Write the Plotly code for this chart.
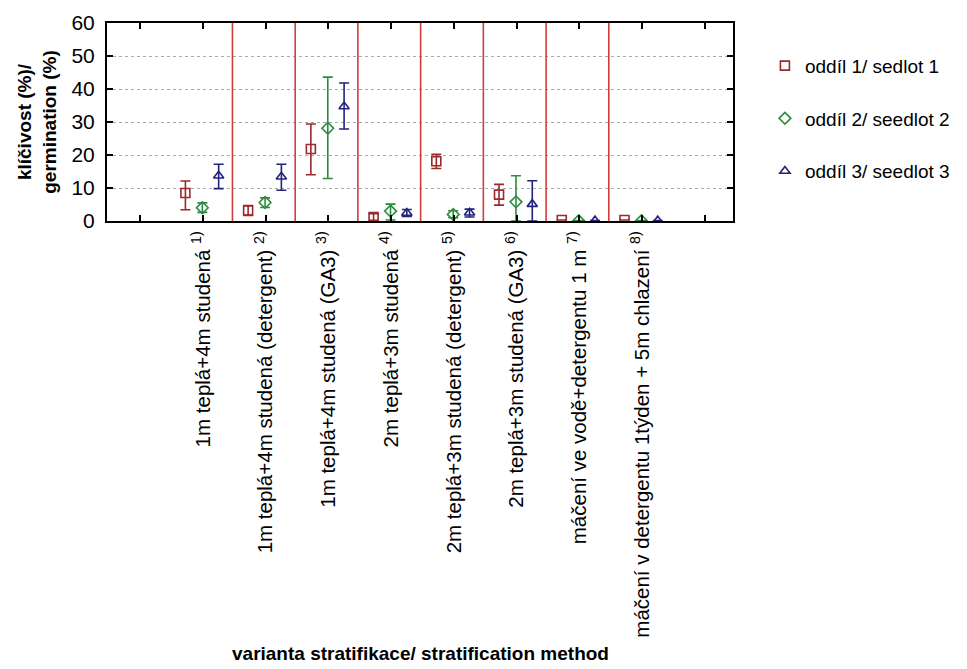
import plotly.graph_objects as go

# ---- data ----
cat_idx = [1, 2, 3, 4, 5, 6, 7, 8]
cat_labels = [
    "1m teplá+4m studená <sup>1)</sup>",
    "1m teplá+4m studená (detergent) <sup>2)</sup>",
    "1m teplá+4m studená (GA3) <sup>3)</sup>",
    "2m teplá+3m studená <sup>4)</sup>",
    "2m teplá+3m studená (detergent) <sup>5)</sup>",
    "2m teplá+3m studená (GA3) <sup>6)</sup>",
    "máčení ve vodě+detergentu 1 m <sup>7)</sup>",
    "máčení v detergentu 1týden + 5m chlazení <sup>8)</sup>",
]
series_names = ["oddíl 1/ sedlot 1", "oddíl 2/ seedlot 2", "oddíl 3/ seedlot 3"]

s1_mean = [8.5, 3.2, 21.8, 1.2, 18.1, 8.0, 0.3, 0.3]
s1_upper = [12.1, 4.7, 29.4, 2.2, 20.2, 11.1, 0.3, 0.3]
s1_lower = [3.4, 1.7, 14.0, 0.2, 15.9, 4.8, 0.3, 0.3]

s2_mean = [4.0, 5.6, 28.1, 3.0, 2.0, 5.8, 0.1, 0.1]
s2_upper = [5.5, 7.0, 43.6, 5.1, 3.1, 13.7, 0.1, 0.1]
s2_lower = [2.6, 4.1, 12.9, 0.3, 1.0, 0.0, 0.1, 0.1]

s3_mean = [13.7, 13.4, 34.7, 2.4, 2.5, 5.1, 0.1, 0.1]
s3_upper = [17.2, 17.2, 41.8, 3.5, 3.6, 12.2, 0.1, 0.1]
s3_lower = [9.8, 9.3, 27.9, 1.4, 1.2, 0.0, 0.1, 0.1]

y_ticks = [0, 10, 20, 30, 40, 50, 60]

# ---- styling ----
FONT = "Arial, Liberation Sans, sans-serif"
colors = ["#9B2A2A", "#2E8B3E", "#23237F"]
symbols = ["square-open", "diamond-open", "triangle-up-open"]
offsets = [-0.28, -0.01, 0.25]

fig = go.Figure()
series = [(s1_mean, s1_upper, s1_lower), (s2_mean, s2_upper, s2_lower), (s3_mean, s3_upper, s3_lower)]
for i, (m, up, lo) in enumerate(series):
    fig.add_trace(go.Scatter(
        x=[c + offsets[i] for c in cat_idx],
        y=m,
        mode="markers",
        name=series_names[i],
        legendgroup=str(i),
        marker=dict(symbol=symbols[i], size=9, color=colors[i], line=dict(width=1.6, color=colors[i])),
        error_y=dict(type="data", symmetric=False,
                     array=[u - v for u, v in zip(up, m)],
                     arrayminus=[v - l for v, l in zip(m, lo)],
                     color=colors[i], thickness=1.6, width=5),
    ))

# red separators between categories
for k in cat_idx[:-1]:
    fig.add_shape(type="line", xref="x", yref="paper", x0=k + 0.47, x1=k + 0.47, y0=0, y1=1,
                  line=dict(color="#D03C3C", width=1.6))

fig.add_annotation(text="<b>varianta stratifikace/ stratification method</b>",
                   xref="paper", yref="paper", x=0.5, y=(221 - 653) / 198,
                   xanchor="center", yanchor="middle", showarrow=False,
                   font=dict(family=FONT, size=19, color="black"))

fig.update_layout(
    width=967, height=669,
    margin=dict(l=107, r=228, t=23, b=448),
    paper_bgcolor="white", plot_bgcolor="white",
    font=dict(family=FONT, size=20, color="black"),
    showlegend=True,
    legend=dict(x=1.051, xanchor="left", y=0.88, yanchor="top",
                font=dict(family=FONT, size=19, color="black"),
                tracegroupgap=25, bgcolor="rgba(0,0,0,0)"),
    xaxis=dict(range=[-0.53, 9.45], tickmode="array",
               tickvals=[0] + cat_idx + [9], ticktext=[""] + cat_labels + [""],
               tickangle=-90, ticks="inside", ticklen=6, tickwidth=1.5, tickcolor="black",
               showline=True, linecolor="black", linewidth=2, mirror="ticks",
               showgrid=False, zeroline=False,
               tickfont=dict(family=FONT, size=20.5, color="black")),
    yaxis=dict(range=[0, 60], tickvals=y_ticks, ticks="inside", ticklen=6, tickwidth=1.5,
               tickcolor="black", showline=True, linecolor="black", linewidth=2, mirror="ticks",
               showgrid=True, gridcolor="#AAAAAA", griddash="dot", gridwidth=1.2,
               zeroline=False, ticklabelstandoff=6,
               tickfont=dict(family=FONT, size=21, color="black"),
               title=dict(text="<b>klíčivost (%)/<br>germination (%)</b>",
                          font=dict(family=FONT, size=19, color="black"), standoff=10)),
)

fig.write_html("out.html")
